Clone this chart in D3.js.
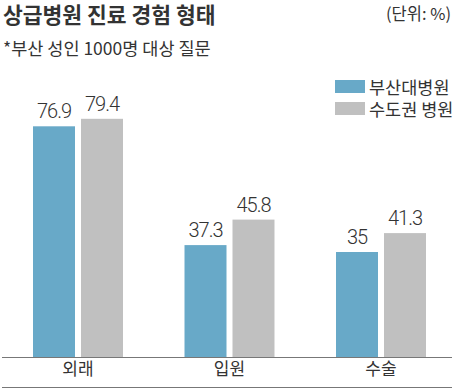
<!DOCTYPE html>
<html><head><meta charset="utf-8">
<script src="https://cdn.jsdelivr.net/npm/d3@7"></script>
<style>
html,body{margin:0;padding:0;background:#fff;}
svg{display:block;}
</style></head>
<body>
<script>
const categories = ["외래", "입원", "수술"];
const seriesNames = ["부산대병원", "수도권 병원"];
const busanValues = [76.9, 37.3, 35];
const capitalValues = [79.4, 45.8, 41.3];
const valueLabels = [["76.9","37.3","35"],["79.4","45.8","41.3"]];
const titleText = "상급병원 진료 경험 형태";
const unitText = "(단위: %)";
const noteText = "*부산 성인 1000명 대상 질문";

const W = 453, H = 391;
const colors = ["#68a9c8", "#c0c0c0"];
const kr = "'Noto Sans CJK KR', 'Noto Sans', sans-serif";
const num = "Roboto, 'Noto Sans', sans-serif";

const svg = d3.select("body").append("svg").attr("width", W).attr("height", H);

const x0 = d3.scaleBand().domain(categories).range([2.25, 456.75]).paddingInner(0.406).paddingOuter(0.203);
const x1 = d3.scaleBand().domain(seriesNames).range([0, x0.bandwidth()]).paddingInner(0.125);
const y = d3.scaleLinear().domain([0, 100]).range([357, 57]);

const data = categories.map((c, i) => ({cat: c, vals: [busanValues[i], capitalValues[i]]}));

const g = svg.append("g");
data.forEach((d, i) => {
  d.vals.forEach((v, j) => {
    const bx = x0(d.cat) + x1(seriesNames[j]);
    g.append("rect")
      .attr("x", bx).attr("y", y(v))
      .attr("width", x1.bandwidth()).attr("height", y(0) - y(v))
      .attr("fill", colors[j]);
    g.append("text")
      .attr("x", bx + x1.bandwidth() / 2).attr("y", y(v) - 8)
      .attr("text-anchor", "middle")
      .attr("font-family", num).attr("font-size", 20).attr("font-weight", 300)
      .attr("letter-spacing", "-1px")
      .attr("fill", "#333")
      .text(valueLabels[j][i]);
  });
});

svg.append("line").attr("x1", 2).attr("x2", 452).attr("y1", y(0) + 0.5).attr("y2", y(0) + 0.5)
  .attr("stroke", "#777").attr("stroke-width", 1);
svg.append("line").attr("x1", 2).attr("x2", 452).attr("y1", 387.5).attr("y2", 387.5)
  .attr("stroke", "#777").attr("stroke-width", 1);

const xAxis = d3.axisBottom(x0).tickSize(0).tickPadding(0);
const ax = svg.append("g").attr("transform", `translate(0,${y(0)})`).call(xAxis);
ax.select(".domain").remove();
ax.selectAll("text").attr("font-family", kr).attr("font-size", 17).attr("fill", "#333").attr("dy", "1.05em");

svg.append("text").attr("x", 3).attr("y", 23).attr("font-family", kr).attr("font-size", 21.5)
  .attr("font-weight", 700).attr("fill", "#333").text(titleText);
svg.append("text").attr("x", 451).attr("y", 20).attr("text-anchor", "end").attr("font-family", kr)
  .attr("font-size", 16.5).attr("fill", "#333").text(unitText);
svg.append("text").attr("x", 3).attr("y", 55).attr("font-family", kr).attr("font-size", 17.5)
  .attr("fill", "#333").text(noteText);

const lg = svg.append("g");
seriesNames.forEach((s, j) => {
  lg.append("rect").attr("x", 335).attr("y", 80 + j * 22).attr("width", 30).attr("height", 13).attr("fill", colors[j]);
  lg.append("text").attr("x", 369).attr("y", 93.5 + j * 22).attr("font-family", kr).attr("font-size", 17.5)
    .attr("fill", "#333").text(s);
});
</script>
</body></html>
